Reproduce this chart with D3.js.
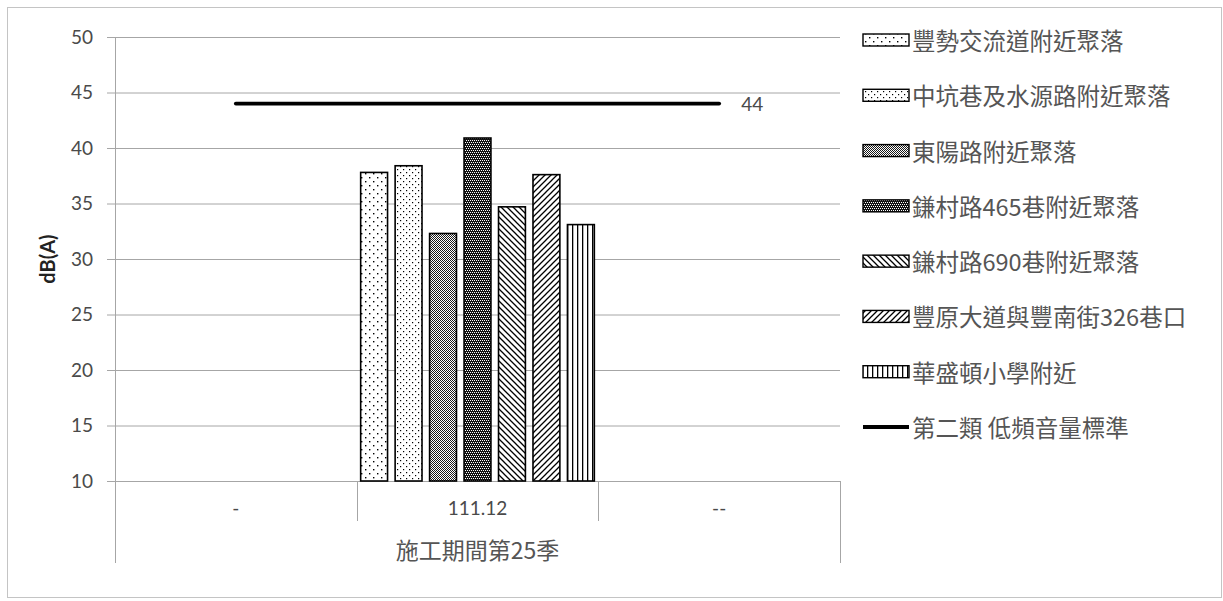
<!DOCTYPE html>
<html>
<head>
<meta charset="utf-8">
<script src="https://cdn.jsdelivr.net/npm/d3@7"></script>
<style>
  html, body { margin: 0; padding: 0; background: #fff; }
  svg { display: block; }
</style>
</head>
<body>
<svg id="chart" width="1223" height="601"></svg>
<script>
// Survey periods along the x axis and the grouping label beneath them
const categories = ["-", "111.12", "--"];
const periodGroup = "施工期間第25季";

// Monitoring sites (one bar each) and their measured levels for 111.12
const sites = [
  "豐勢交流道附近聚落",
  "中坑巷及水源路附近聚落",
  "東陽路附近聚落",
  "鎌村路465巷附近聚落",
  "鎌村路690巷附近聚落",
  "豐原大道與豐南街326巷口",
  "華盛頓小學附近"
];
const siteValues = [37.8, 38.4, 32.3, 40.9, 34.7, 37.6, 33.1];
const barCategory = "111.12";

// Regulatory limit line
const standardName = "第二類 低頻音量標準";
const standardValues = [44, 44, 44];

// Y axis ticks
const yTicks = [10, 15, 20, 25, 30, 35, 40, 45, 50];

const svg = d3.select("#chart");
const W = 1223, H = 601;
const plot = { left: 115, right: 840, top: 37, bottom: 481 };

const latin = "Lato, 'Noto Sans', sans-serif";
const cjk = "'Noto Sans CJK TC', 'Noto Sans CJK SC', sans-serif";
const textColor = "#4a4a4a";
const cjkColor = "#555";
const gridColor = "#a6a6a6";

// Outer frame
svg.append("rect")
  .attr("x", 7.5).attr("y", 7.5)
  .attr("width", W - 9).attr("height", H - 11)
  .attr("fill", "#fff").attr("stroke", "#c4c4c4").attr("stroke-width", 1);

// Fill patterns, one per site
const defs = svg.append("defs");
function pattern(id, w, h, draw) {
  const p = defs.append("pattern")
    .attr("id", id).attr("patternUnits", "userSpaceOnUse")
    .attr("width", w).attr("height", h);
  draw(p);
}
function dots(p, pts, size, color) {
  pts.forEach(([px, py]) => p.append("rect").attr("x", px).attr("y", py)
    .attr("width", size).attr("height", size).attr("fill", color));
}
// sparse dots
pattern("p0", 8, 8, p => {
  p.append("rect").attr("width", 8).attr("height", 8).attr("fill", "#fff");
  dots(p, [[1, 1], [5, 5]], 1.4, "#000");
});
// denser dots
pattern("p1", 6, 6, p => {
  p.append("rect").attr("width", 6).attr("height", 6).attr("fill", "#fff");
  dots(p, [[1, 1], [4, 4]], 1.2, "#000");
});
// fine grey mesh
pattern("p2", 2, 2, p => {
  p.append("rect").attr("width", 2).attr("height", 2).attr("fill", "#fff");
  dots(p, [[0, 0], [1, 1]], 1, "#1a1a1a");
});
// dark diamonds
pattern("p3", 4, 4, p => {
  p.append("rect").attr("width", 4).attr("height", 4).attr("fill", "#111");
  dots(p, [[0, 0], [2, 0], [1, 2], [3, 2]], 1, "#fff");
});
// downward diagonal
pattern("p4", 6, 6, p => {
  p.append("rect").attr("width", 6).attr("height", 6).attr("fill", "#fff");
  p.append("path").attr("d", "M-1,-1 L7,7 M-1,5 L1,7 M5,-1 L7,1")
    .attr("stroke", "#000").attr("stroke-width", 1.3);
});
// upward diagonal
pattern("p5", 6, 6, p => {
  p.append("rect").attr("width", 6).attr("height", 6).attr("fill", "#fff");
  p.append("path").attr("d", "M-1,7 L7,-1 M-1,1 L1,-1 M5,7 L7,5")
    .attr("stroke", "#000").attr("stroke-width", 1.3);
});
// vertical stripes
pattern("p6", 5, 5, p => {
  p.append("rect").attr("width", 5).attr("height", 5).attr("fill", "#fff");
  p.append("rect").attr("x", 2).attr("y", 0).attr("width", 1.3).attr("height", 5).attr("fill", "#000");
});
const fills = sites.map((_, i) => `url(#p${i})`);

// Scales
const x = d3.scaleBand().domain(categories).range([plot.left, plot.right]).padding(0);
const y = d3.scaleLinear().domain([10, 50]).range([plot.bottom, plot.top]);
const xInner = d3.scaleBand().domain(sites)
  .range([x(barCategory) + 4, x(barCategory) + x.bandwidth() - 4])
  .paddingInner(0.22).paddingOuter(0);

// Gridlines + y axis
const yAxis = d3.axisLeft(y).tickValues(yTicks).tickSize(8).tickPadding(14)
  .tickFormat(d3.format("d"));
const gy = svg.append("g").attr("transform", `translate(${plot.left},0)`).call(yAxis);
gy.select(".domain").remove();
gy.selectAll(".tick line").attr("stroke", gridColor);
gy.selectAll(".tick text").attr("fill", textColor)
  .style("font-family", latin).style("font-size", "19px");

svg.append("g").selectAll("line").data(yTicks).join("line")
  .attr("x1", plot.left).attr("x2", plot.right)
  .attr("y1", d => y(d) + 0.5).attr("y2", d => y(d) + 0.5)
  .attr("stroke", gridColor).attr("stroke-width", 1);
gy.selectAll(".tick").attr("transform", d => `translate(0,${y(d) + 0.5})`);

// Axis frame: vertical value axis line, category axis and its separators
const axisG = svg.append("g").attr("stroke", gridColor).attr("stroke-width", 1);
axisG.append("line").attr("x1", plot.left + 0.5).attr("x2", plot.left + 0.5)
  .attr("y1", plot.top).attr("y2", 563);
axisG.append("line").attr("x1", plot.right + 0.5).attr("x2", plot.right + 0.5)
  .attr("y1", plot.bottom).attr("y2", 563);
axisG.selectAll("line.sep").data(categories.slice(1)).join("line").attr("class", "sep")
  .attr("x1", d => Math.round(x(d)) + 0.5).attr("x2", d => Math.round(x(d)) + 0.5)
  .attr("y1", plot.bottom).attr("y2", 521);

// Category labels
svg.append("g").selectAll("text").data(categories).join("text")
  .attr("x", d => x(d) + x.bandwidth() / 2).attr("y", 507)
  .attr("text-anchor", "middle").attr("dominant-baseline", "central")
  .attr("fill", textColor).style("font-family", latin).style("font-size", "19px")
  .text(d => d);
svg.append("text")
  .attr("x", (plot.left + plot.right) / 2).attr("y", 549)
  .attr("text-anchor", "middle").attr("dominant-baseline", "central")
  .attr("fill", cjkColor).style("font-family", cjk).style("font-size", "23px")
  .text(periodGroup);

// Y axis title
svg.append("text")
  .attr("transform", `translate(47,${(plot.top + plot.bottom) / 2}) rotate(-90)`)
  .attr("text-anchor", "middle").attr("dominant-baseline", "central")
  .attr("fill", "#222").style("font-family", latin).style("font-size", "20px")
  .style("font-weight", "bold").text("dB(A)");

// Bars
svg.append("g").selectAll("rect").data(sites).join("rect")
  .attr("x", d => xInner(d)).attr("width", xInner.bandwidth())
  .attr("y", (d, i) => y(siteValues[i]))
  .attr("height", (d, i) => y(10) - y(siteValues[i]))
  .attr("fill", (d, i) => fills[i])
  .attr("stroke", "#000").attr("stroke-width", 1.6);

// Standard line
const line = d3.line()
  .x((d, i) => x(categories[i]) + x.bandwidth() / 2)
  .y(d => y(d));
svg.append("path").datum(standardValues)
  .attr("d", line).attr("fill", "none")
  .attr("stroke", "#000").attr("stroke-width", 3.8).attr("stroke-linecap", "round");
const lastI = standardValues.length - 1;
svg.append("text")
  .attr("x", x(categories[lastI]) + x.bandwidth() / 2 + 22)
  .attr("y", y(standardValues[lastI]))
  .attr("dominant-baseline", "central")
  .attr("fill", textColor).style("font-family", latin).style("font-size", "19px")
  .text(d3.format("d")(standardValues[lastI]));

// Legend
const legendY = d3.scalePoint().domain(d3.range(sites.length + 1)).range([40, 427]);
const lg = svg.append("g");
sites.forEach((name, i) => {
  const cy = legendY(i);
  lg.append("rect").attr("x", 863).attr("y", cy - 6).attr("width", 46).attr("height", 12)
    .attr("fill", fills[i]).attr("stroke", "#000").attr("stroke-width", 1.4);
  lg.append("text").attr("x", 912).attr("y", cy).attr("dominant-baseline", "central")
    .attr("fill", cjkColor).style("font-family", cjk).style("font-size", "23.5px").text(name);
});
{
  const cy = legendY(sites.length);
  lg.append("line").attr("x1", 863).attr("x2", 909).attr("y1", cy).attr("y2", cy)
    .attr("stroke", "#000").attr("stroke-width", 3.8);
  lg.append("text").attr("x", 912).attr("y", cy).attr("dominant-baseline", "central")
    .attr("fill", cjkColor).style("font-family", cjk).style("font-size", "23.5px").text(standardName);
}
</script>
</body>
</html>
